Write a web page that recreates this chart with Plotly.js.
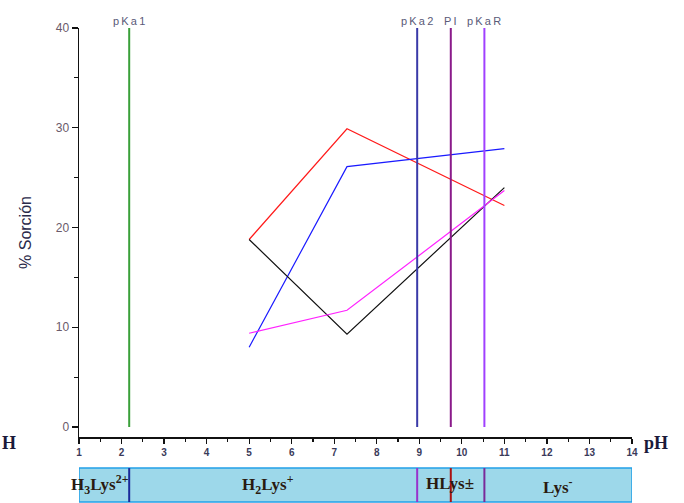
<!DOCTYPE html>
<html>
<head>
<meta charset="utf-8">
<script src="https://cdn.plot.ly/plotly-3.0.1.min.js"></script>
<style>html,body{margin:0;padding:0;background:#fff;}#chart{width:684px;height:503px;}</style>
</head>
<body>
<div id="chart"></div>
<script>
// pH values of the sorption measurements
const phValues = [5, 7.3, 11];
const redSeries = [18.8, 29.9, 22.2];
const blueSeries = [8.0, 26.1, 27.9];
const blackSeries = [18.8, 9.3, 24.0];
const magentaSeries = [9.4, 11.7, 23.7];

// reference pK values
const markerNames = ['pKa1', 'pKa2', 'PI', 'pKaR'];
const markerLabels = ['p\u2009K\u2009a\u20091', 'p\u2009K\u2009a\u20092', 'P\u2009I', 'p\u2009K\u2009a\u2009R'];
const markerPh = [2.18, 8.95, 9.74, 10.53];
const markerColors = ['#3aa03a', '#3a3aa8', '#8a1a8a', '#a040ff'];
const markerSpan = [0, 40];

// species regions
const speciesLabels = ['H<sub>3</sub>Lys<sup>2+</sup>', 'H<sub>2</sub>Lys<sup>+</sup>', 'HLys\u00b1', 'Lys<sup>-</sup>'];
const speciesCenters = [1.5, 5.45, 9.73, 12.25];
const bandBounds = [1, 14];
const dividerPh = [2.18, 8.95, 9.74, 10.53];
const dividerColors = ['#1a2a9a', '#9933cc', '#aa1111', '#7a2a9a'];

const xTicks = [1,2,3,4,5,6,7,8,9,10,11,12,13,14];
const yTicks = [0,10,20,30,40];

const traces = [];
const series = [[redSeries,'#ff1a1a'],[blueSeries,'#1a1aff'],[blackSeries,'#111111'],[magentaSeries,'#ff22ff']];
series.forEach(([vals,col]) => traces.push({x: phValues, y: vals, mode:'lines', type:'scatter', line:{color:col, width:1.2}, hoverinfo:'skip', showlegend:false}));
markerPh.forEach((p,i) => traces.push({x:[p,p], y:markerSpan, mode:'lines', type:'scatter', line:{color:markerColors[i], width:2}, name:markerNames[i], showlegend:false, hoverinfo:'skip'}));

const shapes = [];
const bandTop = -0.076, bandBot = -0.159;
shapes.push({type:'rect', xref:'x', yref:'paper', x0:bandBounds[0], x1:bandBounds[1], y0:bandBot, y1:bandTop, fillcolor:'#9dd8ea', line:{color:'#22a0e8', width:1.5}, layer:'below'});
dividerPh.forEach((p,i) => shapes.push({type:'line', xref:'x', yref:'paper', x0:p, x1:p, y0:bandBot, y1:bandTop, line:{color:dividerColors[i], width:2}}));

const annotations = [];
markerPh.forEach((p,i) => annotations.push({x:p, y:1.0, xref:'x', yref:'paper', yanchor:'bottom', text:markerLabels[i], showarrow:false, font:{family:'Arial, Liberation Sans', size:11, color:'#5a5a78'}, yshift:-1}));
const labelShift = [-14, -14, -10, -14];
const labelSize = [17, 17, 17, 17];
speciesLabels.forEach((t,i) => annotations.push({x:speciesCenters[i], y:(bandTop+bandBot)/2, xref:'x', yref:'paper', text:'<b>'+t+'</b>', showarrow:false, yshift:labelShift[i], font:{family:'Liberation Serif', size:labelSize[i], color:'#2a1a10'}}));
annotations.push({x:1.0, xref:'paper', xanchor:'left', y:-0.045, yref:'paper', text:'<b>pH</b>', showarrow:false, font:{family:'Liberation Serif', size:18, color:'#1a1a3a'}, xshift:10});
annotations.push({x:0, xref:'paper', y:-0.045, yref:'paper', text:'<b>H</b>', showarrow:false, font:{family:'Liberation Serif', size:18, color:'#1a1a3a'}, xshift:-79, xanchor:'left'});

const layout = {
  width:684, height:503,
  margin:{l:79, r:52, t:28, b:66},
  paper_bgcolor:'#ffffff', plot_bgcolor:'#ffffff',
  showlegend:false,
  xaxis:{range:[1,14], tickvals:xTicks, ticktext:xTicks.map(String), ticks:'outside', ticklen:5, tickwidth:1.2, tickcolor:'#111',
    showline:true, linecolor:'#111', linewidth:1.5, showgrid:false, zeroline:false,
    tickfont:{family:'Arial, Liberation Sans', size:10, weight:'bold', color:'#3a3a5a'},
    minor:{dtick:0.5, ticks:'outside', ticklen:3, tickcolor:'#111'}},
  yaxis:{range:[-1,40], tickvals:yTicks, ticktext:yTicks.map(String), ticks:'outside', ticklen:6, tickwidth:1.2, tickcolor:'#111',
    showline:true, linecolor:'#111', linewidth:1.5, showgrid:false, zeroline:false,
    tickfont:{family:'Arial, Liberation Sans', size:12, color:'#6a5a6a'},
    minor:{dtick:5, ticks:'outside', ticklen:4, tickcolor:'#111'},
    title:{text:'% Sorción', font:{family:'Arial, Liberation Sans', size:16, color:'#2a2a4a'}, standoff:20}},
  shapes:shapes, annotations:annotations
};
Plotly.newPlot('chart', traces, layout, {displayModeBar:false, staticPlot:true});
</script>
</body>
</html>
